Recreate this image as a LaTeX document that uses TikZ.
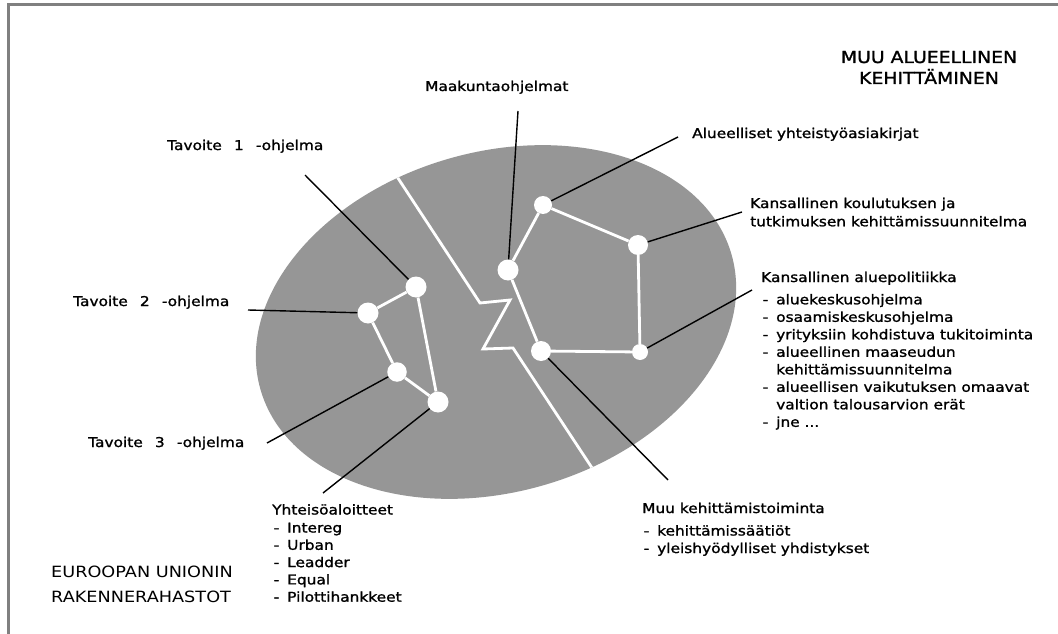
\documentclass[tikz,border=0pt]{standalone}
\usepackage{fontspec}
\newfontfamily\comic[FakeStretch=1.14,FakeBold=1.3]{DejaVu Sans}
\newfontfamily\comiclight[FakeStretch=1.14]{DejaVu Sans}
\definecolor{ellgray}{RGB}{150,150,150}
\definecolor{framegray}{RGB}{128,128,128}
\newcommand\itm{\makebox[15pt][l]{\hspace{1.5pt}-}}
\newcommand\cont{\hspace*{15pt}}
\newcommand\wsp{\hspace{0.9em}}
\begin{document}
\begin{tikzpicture}[x=1pt,y=-1pt,
  lbl/.style={inner sep=0pt, anchor=base west, align=left, font=\comic\fontsize{13.5}{17.5}\selectfont},
  dot/.style={circle, fill=white, inner sep=0pt, minimum size=#1},
  dot/.default=20pt,
  wline/.style={white, line width=2.8pt},
  leader/.style={black, line width=1.4pt},
  ell/.style={rotate around={16:(496,322)}}
]
\useasboundingbox (0,0) rectangle (1058,634);
\fill[white] (0,0) rectangle (1058,634);
\draw[framegray, line width=3pt] (8,634) -- (8,5) -- (1058,5);

% background ellipse
\fill[ellgray, ell] (496,322) ellipse [x radius=245pt, y radius=170pt];

% dividing line
\begin{scope}
\clip[ell] (496,322) ellipse [x radius=245pt, y radius=170pt];
\draw[wline, line join=miter] (390,166) -- (480,303) -- (510,300) -- (483,349) -- (513,348) -- (600,480);
\end{scope}

% left group
\node[dot=21pt] (A) at (416,287) {};
\node[dot=21pt] (B) at (368,313) {};
\node[dot=19.5pt] (C) at (397,372) {};
\node[dot=21pt] (D) at (438,402) {};
\draw[wline] (A) -- (B) -- (C) -- (D) -- (A);

% right group
\node[dot=21pt] (E) at (508,270) {};
\node[dot=18pt] (F) at (543,205) {};
\node[dot=20pt] (G) at (638,245) {};
\node[dot=16pt] (H) at (640,352) {};
\node[dot=20pt] (I) at (541,351) {};
\draw[wline] (E) -- (F) -- (G) -- (H) -- (I) -- (E);

% leader start points
\coordinate (t1s) at (305,175);
\coordinate (t2s) at (248,310);
\coordinate (t3s) at (267,443);
\coordinate (yhs) at (323,493);
\coordinate (mks) at (518,111);
\coordinate (als) at (678,137);
\coordinate (kks) at (742,212);
\coordinate (aps) at (752,290);
\coordinate (mus) at (668,480);

\draw[leader] (t1s) -- (A);
\draw[leader] (t2s) -- (B);
\draw[leader] (t3s) -- (C);
\draw[leader] (yhs) -- (D);
\draw[leader] (mks) -- (E);
\draw[leader] (als) -- (F);
\draw[leader] (kks) -- (G);
\draw[leader] (aps) -- (H);
\draw[leader] (mus) -- (I);

% labels (multi-line nodes: base anchor = last line)
\node[lbl] (mk) at (425,91) {Maakuntaohjelmat};
\node[lbl] (t1) at (167,150) {Tavoite\wsp1\wsp-ohjelma};
\node[lbl] (t2) at (73,306) {Tavoite\wsp2\wsp-ohjelma};
\node[lbl] (t3) at (88,447) {Tavoite\wsp3\wsp-ohjelma};
\node[lbl, font=\comic\fontsize{13.5}{17.3}\selectfont] (yh) at (272,601.7)
  {Yhteisöaloitteet\\[0.7pt] \itm Intereg\\ \itm Urban\\ \itm Leadder\\ \itm Equal\\ \itm Pilottihankkeet};
\node[lbl, font=\comiclight\fontsize{15.5}{25}\selectfont] (eu) at (51,602)
  {EUROOPAN UNIONIN\\RAKENNERAHASTOT};
\node[inner sep=0pt, anchor=base, align=center, font=\comic\fontsize{16.5}{21}\selectfont] (muu) at (929,84)
  {MUU ALUEELLINEN\\KEHITTÄMINEN};
\node[lbl] (mu) at (642,553)
  {Muu kehittämistoiminta\\[5pt] \itm kehittämissäätiöt\\ \itm yleishyödylliset yhdistykset};
\node[lbl] (al) at (692,138) {Alueelliset yhteistyöasiakirjat};
\node[lbl, font=\comic\fontsize{13.5}{18.3}\selectfont] (kk) at (750,226.3)
  {Kansallinen koulutuksen ja\\tutkimuksen kehittämissuunnitelma};
\node[lbl] (ap) at (761,426.8)
  {Kansallinen aluepolitiikka\\[4.8pt] \itm aluekeskusohjelma\\ \itm osaamiskeskusohjelma\\
   \itm yrityksiin kohdistuva tukitoiminta\\ \itm alueellinen maaseudun\\ \cont kehittämissuunnitelma\\
   \itm alueellisen vaikutuksen omaavat\\ \cont valtion talousarvion erät\\ \itm jne ...};
\end{tikzpicture}
\end{document}
